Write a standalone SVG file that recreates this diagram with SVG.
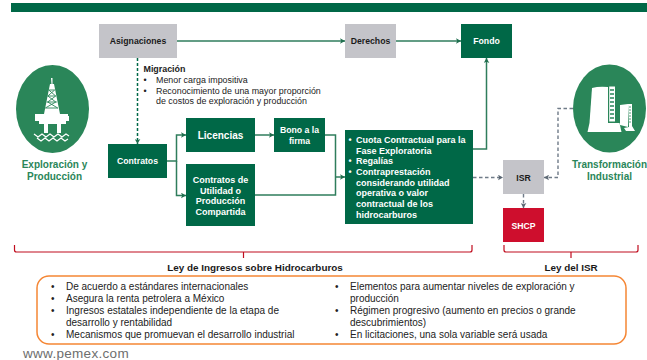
<svg xmlns="http://www.w3.org/2000/svg" width="647" height="360" viewBox="0 0 647 360">
<style>
text{font-family:"Liberation Sans",Arial,sans-serif;font-size:8.7px;fill:#222}
.b{font-weight:bold}
.w{fill:#fff;font-weight:bold;text-anchor:middle}
.s{text-anchor:start;font-size:9px}
.k{fill:#1a1a1a;font-weight:bold;text-anchor:middle}
.l{font-size:9.900px}
.m{font-size:8.900px}
.t{font-size:10px}
.g{fill:#2a8659;font-weight:bold;font-size:10px;text-anchor:middle}
.dg{fill:#006847}.gr{fill:#c4c4c9}
.c{fill:none;stroke:#2f7d5c;stroke-width:1.500}
.d{fill:none;stroke:#6f7b88;stroke-width:1.400;stroke-dasharray:3.500 2.500}
.br{fill:none;stroke:#c00d1e;stroke-width:1.200}
.i{fill:#fff}
</style>
<defs>
<marker id="a" markerWidth="6" markerHeight="6" refX="5" refY="3" orient="auto" markerUnits="userSpaceOnUse"><path d="M0 0.200L5 3L0 5.800L1.200 3Z" fill="#1f6e4e"/></marker>
<marker id="e" markerWidth="6" markerHeight="6" refX="5" refY="3" orient="auto" markerUnits="userSpaceOnUse"><path d="M0 0.200L5 3L0 5.800L1.200 3Z" fill="#5a6672"/></marker>
</defs>
<rect id="topbar" x="11" y="3" width="636" height="9" fill="#006847"/>
<g id="connectors">
<path class="c" d="M177 41H345" marker-end="url(#a)"/>
<path class="c" d="M396 41H461" marker-end="url(#a)"/>
<path class="c" style="stroke:#006847;stroke-dasharray:3 2" d="M137.500 58V144" marker-end="url(#a)"/>
<path class="c" d="M167 161H176.500V135H186" marker-end="url(#a)"/>
<path class="c" d="M176.500 161V195.500H186" marker-end="url(#a)"/>
<path class="c" d="M255 135H274" marker-end="url(#a)"/>
<path class="c" d="M325 135H335.500V195H255"/>
<path class="c" d="M335.500 177H345" marker-end="url(#a)"/>
<path class="c" d="M473 149H486.500V58" marker-end="url(#a)"/>
<path class="d" d="M473 177.500H503" marker-end="url(#e)"/>
<path class="d" d="M573 108.500H558V177.500H544" marker-end="url(#e)"/>
<path class="d" d="M523.500 194V208" marker-end="url(#e)"/>
</g>
<g id="asignaciones"><rect class="gr" x="99" y="24" width="78" height="34"/><text class="k" x="138" y="44">Asignaciones</text></g>
<g id="derechos"><rect class="gr" x="345" y="24" width="51" height="34"/><text class="k" x="370.500" y="44">Derechos</text></g>
<g id="fondo"><rect class="dg" x="461" y="24" width="51" height="34"/><text class="w" x="486.500" y="44">Fondo</text></g>
<g id="migracion">
<text class="b m" x="143.500" y="72">Migración</text>
<text class="m" x="143.500" y="83">•</text><text class="m" x="156" y="83">Menor carga impositiva</text>
<text class="m" x="143.500" y="94">•</text><text class="m" x="156" y="94">Reconocimiento de una mayor proporción</text>
<text class="m" x="156" y="104">de costos de exploración y producción</text>
</g>
<g id="contratos"><rect class="dg" x="108" y="144" width="59" height="34"/><text class="w" x="137.500" y="164">Contratos</text></g>
<g id="licencias"><rect class="dg" x="186" y="118" width="69" height="34"/><text class="w" x="220.500" y="139" style="font-size:10px">Licencias</text></g>
<g id="bono"><rect class="dg" x="274" y="118" width="51" height="34"/><text class="w" x="299.500" y="133">Bono a la</text><text class="w" x="299.500" y="144">firma</text></g>
<g id="cupc"><rect class="dg" x="186" y="164" width="69" height="62"/>
<text class="w" style="font-size:9px" x="220.500" y="183">Contratos de</text><text class="w" style="font-size:9px" x="220.500" y="194">Utilidad o</text><text class="w" style="font-size:9px" x="220.500" y="204">Producción</text><text class="w" style="font-size:9px" x="220.500" y="215">Compartida</text></g>
<g id="cuota"><rect class="dg" x="345" y="130" width="128" height="94"/>
<text class="w" x="350" y="143">•</text><text class="w s" x="356" y="143">Cuota Contractual para la</text>
<text class="w s" x="356" y="154">Fase Exploratoria</text>
<text class="w" x="350" y="164">•</text><text class="w s" x="356" y="164">Regalías</text>
<text class="w" x="350" y="175">•</text><text class="w s" x="356" y="175">Contraprestación</text>
<text class="w s" x="356" y="186">considerando utilidad</text>
<text class="w s" x="356" y="196">operativa o valor</text>
<text class="w s" x="356" y="207">contractual de los</text>
<text class="w s" x="356" y="218">hidrocarburos</text>
</g>
<g id="isr"><rect class="gr" x="503" y="160" width="41" height="34"/><text class="k" x="523.500" y="181">ISR</text></g>
<g id="shcp"><rect x="503" y="208" width="41" height="34" fill="#ce0e2d"/><text class="w" x="523.500" y="229">SHCP</text></g>
<g id="exploracion">
<ellipse cx="52.500" cy="109" rx="36.500" ry="44" fill="#2a8659"/>
<path class="i" d="M51 78h1.500v6h1.500l6 30h-16l6-30h1.500z"/>
<g fill="none" stroke="#2a8659" stroke-width=".9"><path d="M48.800 90h5.900M47.800 96h7.900M46.600 102h10.300M45.500 108h12.500M48.800 90l6.900 6-8 6 10 6M54.700 90l-6.900 6 8 6-10.500 6"/></g>
<path class="i" d="M35 114h33v2h1v5h-3v3h-5v9h-4v-9h-9v9h-4v-9h-5v-3h-4v-5h0z"/>
<path d="M34 134l4 3 4-3 4 3 4-3 4 3 4-3 4 3 4-3 3 2M37 138l4 3 4-3 4 3 4-3 4 3 4-3 4 3 3-2" fill="none" stroke="#fff" stroke-width="1.200"/>
<text class="g" x="54.500" y="168">Exploración y</text><text class="g" x="54.500" y="180">Producción</text>
</g>
<g id="transformacion">
<ellipse cx="609.500" cy="108.500" rx="36.500" ry="44" fill="#2a8659"/>
<path class="i" d="M592 88q7-2 16-1v36h-18.500z"/>
<path class="i" d="M609.200 86.500h5.800v35h-5.800z"/>
<path class="i" d="M587.500 132l2-9h30l2 9z"/>
<path class="i" d="M620 105l8-1v23l-8-2z"/>
<path class="i" d="M628 104h4v22l3 5h-9l-2-3 5-1z"/>
<g stroke="#2a8659" stroke-width="1.300"><path d="M610 90h4M610 94h4M610 98h4M610 102h4M610 106h4M610 110h4M610 114h4M610 118h4"/><path stroke-width=".8" d="M629 107h2M629 110h2M629 113h2M629 116h2M629 119h2M629 122h2"/></g>
<text class="g" x="609.500" y="168">Transformación</text><text class="g" x="609.500" y="180">Industrial</text>
</g>
<g id="brackets">
<path class="br" d="M14.500 245v5q0 2 2 2H470q2 0 2-2v-5M243.500 252v6"/>
<path class="br" d="M504 245v5q0 2 2 2H636q2 0 2-2v-5M571 252v6"/>
</g>
<text class="k l" x="255" y="271" id="ley1">Ley de Ingresos sobre Hidrocarburos</text>
<text class="k l" x="571" y="271" id="ley2">Ley del ISR</text>
<g id="beneficios">
<rect x="37" y="276" width="589" height="68" rx="12" fill="none" stroke="#f58634" stroke-width="1.500"/>
<text class="t" x="51" y="290">•</text><text class="t" x="66" y="290">De acuerdo a estándares internacionales</text>
<text class="t" x="51" y="302">•</text><text class="t" x="66" y="302">Asegura la renta petrolera a México</text>
<text class="t" x="51" y="314">•</text><text class="t" x="66" y="314">Ingresos estatales independiente de la etapa de</text>
<text class="t" x="66" y="326">desarrollo y rentabilidad</text>
<text class="t" x="51" y="338">•</text><text class="t" x="66" y="338">Mecanismos que promuevan el desarrollo industrial</text>
<text class="t" x="335" y="290">•</text><text class="t" x="350" y="290">Elementos para aumentar niveles de exploración y</text>
<text class="t" x="350" y="302">producción</text>
<text class="t" x="335" y="314">•</text><text class="t" x="350" y="314">Régimen progresivo (aumento en precios o grande</text>
<text class="t" x="350" y="326">descubrimientos)</text>
<text class="t" x="335" y="338">•</text><text class="t" x="350" y="338">En licitaciones, una sola variable será usada</text>
</g>
<text x="23" y="358" id="url" style="font-size:13.500px;fill:#6e6e6e;letter-spacing:.3px">www.pemex.com</text>
</svg>
